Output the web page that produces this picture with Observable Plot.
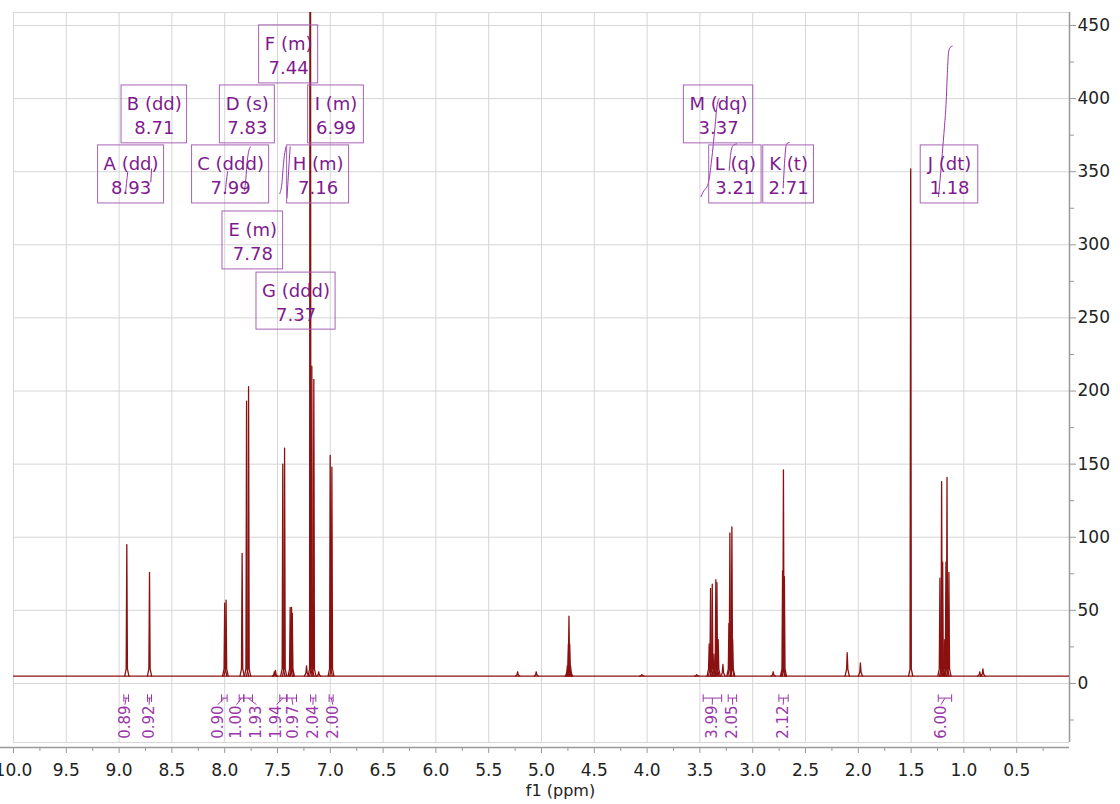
<!DOCTYPE html>
<html><head><meta charset="utf-8">
<script src="https://cdn.jsdelivr.net/npm/d3@7"></script>
<script src="https://cdn.jsdelivr.net/npm/@observablehq/plot@0.6"></script>
<style>
html,body{margin:0;padding:0;background:#fff;}
#chart{width:1120px;height:804px;overflow:hidden;}
</style></head><body><div id="chart"></div>
<script>
// ---- spectrum lines (ppm, intensity) ----
const peakPpm = [8.927, 8.712, 8.000, 7.987, 7.835, 7.793, 7.774, 7.530, 7.520, 7.450, 7.433, 7.380, 7.367, 7.360,
  7.225, 7.190, 7.175, 7.156, 7.110, 7.001, 6.985, 5.226, 5.050, 4.755, 4.745, 4.740, 4.733, 4.725, 4.050, 3.530,
  3.412, 3.399, 3.383, 3.367, 3.349, 3.339, 3.327, 3.282, 3.225, 3.216, 3.197, 3.190, 2.806, 2.717, 2.709, 2.700,
  2.105, 1.980, 1.504, 1.227, 1.211, 1.201, 1.186, 1.170, 1.160, 1.142, 0.850, 0.820];
const peakHeight = [95, 76, 55, 57, 89, 193, 203, 8, 9, 150, 161, 52, 52, 48,
  12, 1000, 217, 208, 8, 156, 148, 8, 8, 12, 27, 46, 27, 12, 6, 6,
  27, 65, 68, 20, 71, 69, 30, 13, 41, 103, 107, 30, 8, 77, 146, 73,
  21, 14, 352, 72, 138, 83, 30, 83, 141, 76, 8, 10];
const baselineLevel = 5;

// ---- peak labels ----
const labelName  = ["A (dd)", "B (dd)", "C (ddd)", "D (s)", "E (m)", "F (m)", "G (ddd)", "H (m)", "I (m)", "J (dt)", "K (t)", "L (q)", "M (dq)"];
const labelShift = ["8.93", "8.71", "7.99", "7.83", "7.78", "7.44", "7.37", "7.16", "6.99", "1.18", "2.71", "3.21", "3.37"];
// label box layout (ppm left/right, intensity top/bottom)
const boxLeft   = [9.199, 8.977, 8.309, 8.046, 8.021, 7.674, 7.699, 7.409, 7.210, 1.409, 2.900, 3.412, 3.652];
const boxRight  = [8.574, 8.356, 7.579, 7.525, 7.447, 7.115, 6.950, 6.822, 6.682, 0.864, 2.420, 2.916, 2.995];
const boxTop    = [368, 409, 368, 409, 322.8, 450.1, 281, 368, 409, 368, 368, 368, 409];
const boxBottom = [328.3, 369.4, 328.3, 369.4, 283.2, 410.4, 242, 328.3, 369.4, 328.3, 328.3, 328.3, 369.4];

// ---- integrals ----
const intLabel = ["0.89", "0.92", "0.90", "1.00", "1.93", "1.94", "0.97", "2.04", "2.00", "3.99", "2.05", "2.12", "6.00"];
const intFrom  = [8.955, 8.731, 8.030, 7.863, 7.819, 7.478, 7.409, 7.187, 7.011, 3.469, 3.232, 2.752, 1.243];
const intTo    = [8.911, 8.693, 7.977, 7.819, 7.737, 7.414, 7.320, 7.137, 6.973, 3.294, 3.152, 2.664, 1.116];
const intTextPpm = [8.945, 8.716, 8.065, 7.888, 7.699, 7.509, 7.355, 7.165, 6.976, 3.383, 3.190, 2.711, 1.217];

// integral curves (curve id, ppm, value)
const curveId  = [0,0,0, 1,1, 2,2,2, 3,3,3,3,3, 4,4,4,4, 5,5,5, 6,6,6,6,6,6,6, 7,7,7,7, 8,8,8,8, 9,9,9,9,9,9,9,9,9];
const curvePpm = [8.94,8.93,8.918, 8.70,8.692, 7.995,7.985,7.972, 7.812,7.80,7.785,7.765,7.755, 7.478,7.46,7.44,7.42, 7.41,7.395,7.38,
  3.49,3.47,3.421,3.389,3.358,3.336,3.317, 3.222,3.209,3.185,3.152, 2.711,2.695,2.679,2.654,
  1.24,1.225,1.205,1.185,1.17,1.155,1.145,1.13,1.11];
const curveVal = [335,342,350, 343,352, 335,343,350, 337,345,358,366,367, 335,341,358,367, 332,350,367,
  333,336,342,358,380,396,400, 351,362,368,369, 339,360,369,370,
  333,345,362,380,395,420,432,435,436];

// ---- axes ----
const xMajorTicks = [10.0, 9.5, 9.0, 8.5, 8.0, 7.5, 7.0, 6.5, 6.0, 5.5, 5.0, 4.5, 4.0, 3.5, 3.0, 2.5, 2.0, 1.5, 1.0, 0.5];
const xMinorTicks = [9.75, 9.25, 8.75, 8.25, 7.75, 7.25, 6.75, 6.25, 5.75, 5.25, 4.75, 4.25, 3.75, 3.25, 2.75, 2.25, 1.75, 1.25, 0.75, 0.25];
const yMajorTicks = [0, 50, 100, 150, 200, 250, 300, 350, 400, 450];
const yMinorTicks = [-25, 25, 75, 125, 175, 225, 275, 325, 375, 425];
const xTitle = "f1 (ppm)";

// ---- build ----
const yMin = -43.8, yMax = 458.9, yFrameBottom = -40.4;
const specColor = "#8b1111", labelColor = "#7e1a8e", boxColor = "#a862b6", intColor = "#9b35aa";

const spikes = [];
peakPpm.forEach((p, i) => {
  const h = peakHeight[i];
  const s = baselineLevel + Math.min(5, (h - baselineLevel) * 0.3);
  spikes.push({i, x: p + 0.02, y: baselineLevel}, {i, x: p + 0.006, y: s}, {i, x: p, y: h},
              {i, x: p - 0.006, y: s}, {i, x: p - 0.02, y: baselineLevel});
});
const boxes = labelName.map((n, i) => ({n, s: labelShift[i], x1: boxLeft[i], x2: boxRight[i], y1: boxBottom[i], y2: boxTop[i]}));
const ints = intLabel.map((t, i) => ({t, a: intFrom[i], b: intTo[i], m: (intFrom[i] + intTo[i]) / 2, tx: intTextPpm[i]}));
const curves = curveId.map((c, i) => ({c, x: curvePpm[i], y: curveVal[i]}));

const yb = -10;
const chart = Plot.plot({
  width: 1120, height: 804,
  marginTop: 12, marginBottom: 57, marginLeft: 13, marginRight: 51,
  x: {domain: [10, 0]},
  y: {domain: [yMin, yMax]},
  style: {fontFamily: "DejaVu Sans", background: "white", color: "#222"},
  marks: [
    // grid
    Plot.ruleX(xMajorTicks, {x: d => d, y1: yFrameBottom, y2: yMax, stroke: "#d6d6d6", strokeWidth: 1}),
    Plot.ruleY(yMajorTicks.concat([yMax, yFrameBottom]), {y: d => d, x1: 10, x2: 0, stroke: "#d6d6d6", strokeWidth: 1}),
    // axis lines
    Plot.ruleY([yMin], {x1: 10.2, x2: 0, stroke: "#999", strokeWidth: 1.5}),
    Plot.ruleX([0], {y1: yFrameBottom, y2: yMax, stroke: "#999", strokeWidth: 1.5}),
    Plot.axisX(xMajorTicks, {anchor: "bottom", tickSize: 6, tickPadding: 10, fontSize: 17, stroke: "#999", fill: "#222", tickFormat: d3.format(".1f"), label: null}),
    Plot.axisX(xMinorTicks, {anchor: "bottom", tickSize: 4, stroke: "#999", tickFormat: () => "", label: null}),
    Plot.axisY(yMajorTicks, {anchor: "right", tickSize: 6, tickPadding: 2, fontSize: 17, stroke: "#999", fill: "#222", label: null}),
    Plot.axisY(yMinorTicks, {anchor: "right", tickSize: 4, stroke: "#999", tickFormat: () => "", label: null}),
    Plot.text([xTitle], {frameAnchor: "bottom", dy: 48, dx: 19, fontSize: 16, fill: "#222"}),
    // spectrum
    Plot.ruleY([baselineLevel], {x1: 10, x2: 0, stroke: specColor, strokeWidth: 1.2}),
    Plot.line(spikes, {x: "x", y: "y", z: "i", stroke: specColor, strokeWidth: 1.3, clip: true}),
    // integral curves
    Plot.line(curves, {x: "x", y: "y", z: "c", stroke: intColor, strokeWidth: 1, curve: "monotone-x"}),
    // peak label boxes
    Plot.rect(boxes, {x1: "x1", x2: "x2", y1: "y1", y2: "y2", fill: "none", stroke: boxColor, strokeWidth: 1}),
    Plot.text(boxes, {x: d => (d.x1 + d.x2) / 2, y: d => (d.y1 + d.y2) / 2, text: d => d.n + "\n" + d.s,
      fontSize: 18, lineHeight: 1.32, fill: labelColor}),
    // integral brackets
    Plot.link(ints, {x1: "a", x2: "b", y1: yb, y2: yb, stroke: intColor, strokeWidth: 1}),
    Plot.link(ints, {x1: "a", x2: "a", y1: yb + 2.6, y2: yb - 2.6, stroke: intColor, strokeWidth: 1}),
    Plot.link(ints, {x1: "b", x2: "b", y1: yb + 2.6, y2: yb - 2.6, stroke: intColor, strokeWidth: 1}),
    Plot.link(ints, {x1: "m", x2: "tx", y1: yb, y2: yb - 4.5, stroke: intColor, strokeWidth: 1}),
    Plot.text(ints, {x: "tx", y: yb - 5, text: "t", rotate: -90, textAnchor: "end", fontSize: 15, fill: intColor})
  ]
});
document.getElementById("chart").appendChild(chart);
</script>
</body></html>
